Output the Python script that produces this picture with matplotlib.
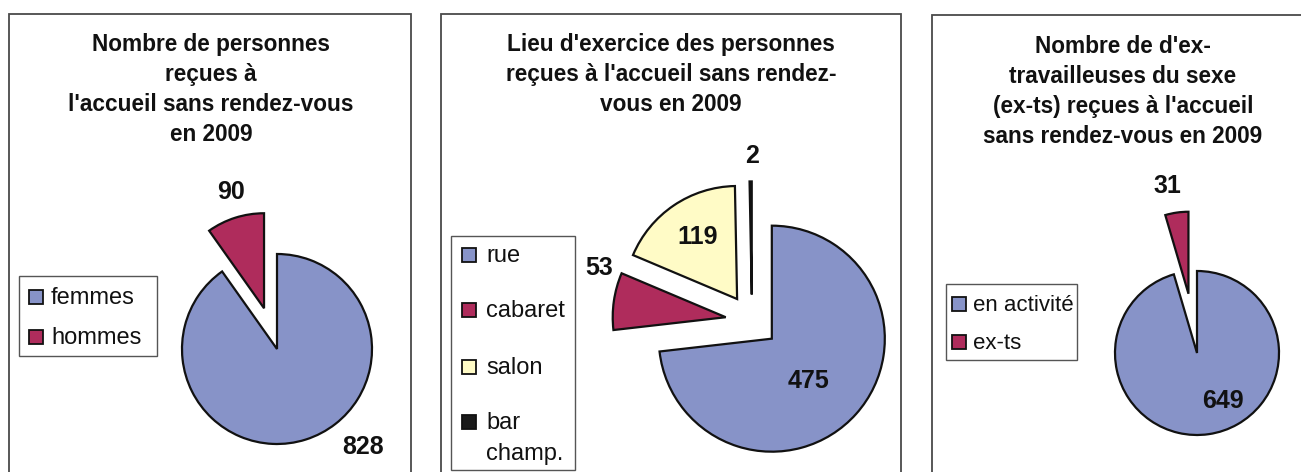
import matplotlib
matplotlib.use("Agg")
import matplotlib.pyplot as plt
from matplotlib.patches import Rectangle
import numpy as np

plt.rcParams['font.family'] = ['Liberation Sans', 'DejaVu Sans']

# ---------------- data ----------------
titles = [
    "Nombre de personnes\nreçues à\nl'accueil sans rendez-vous\nen 2009",
    "Lieu d'exercice des personnes\nreçues à l'accueil sans rendez-\nvous en 2009",
    "Nombre de d'ex-\ntravailleuses du sexe\n(ex-ts) reçues à l'accueil\nsans rendez-vous en 2009",
]
labels1 = ["femmes", "hommes"]
values1 = [828, 90]
labels2 = ["rue", "cabaret", "salon", "bar\nchamp."]
values2 = [475, 53, 119, 2]
labels3 = ["en activité", "ex-ts"]
values3 = [649, 31]

BLUE = '#8793C8'
MAROON = '#AF2C5C'
YELLOW = '#FFFBC6'
BLACK = '#1a1a1a'
colors1 = [BLUE, MAROON]
colors2 = [BLUE, MAROON, YELLOW, BLACK]
colors3 = [BLUE, MAROON]

W, H = 1301, 472
DPI = 100
fig = plt.figure(figsize=(W / DPI, H / DPI), dpi=DPI)
fig.patch.set_facecolor('white')


def fx(x):
    return x / W


def fy(y):
    return 1 - y / H


# panel frames
for (x0, x1, y0) in [(9, 411, 14), (441, 901, 14), (932, 1320, 15)]:
    fig.add_artist(Rectangle((fx(x0), fy(490)), (x1 - x0) / W, (490 - y0) / H,
                             transform=fig.transFigure, fill=False,
                             edgecolor='#4a4a4a', linewidth=1.3))

# titles (y = baseline of the first line, fixed line step)
TITLE_FS = 16.3
TITLE_STEP = 30
for t, (cx, by) in zip(titles, [(211, 51), (671, 51), (1123, 53)]):
    for i, line in enumerate(t.split('\n')):
        fig.text(fx(cx), fy(by + i * TITLE_STEP), line, ha='center', va='baseline',
                 fontsize=TITLE_FS, fontweight='bold', color='#111111')


def draw_pie(values, colors, cx, cy, r, explode, lab_pos):
    k = 2.4
    ax = fig.add_axes([fx(cx - k * r), fy(cy + k * r), 2 * k * r / W, 2 * k * r / H])
    wedges, _ = ax.pie(values, colors=colors, startangle=90, counterclock=False,
                       explode=explode, radius=1.0,
                       wedgeprops=dict(edgecolor='#111111', linewidth=1.6))
    ax.set_xlim(-k, k)
    ax.set_ylim(-k, k)
    ax.axis('off')
    for w, v, (dist, off) in zip(wedges, values, lab_pos):
        mid = np.deg2rad((w.theta1 + w.theta2) / 2 + off)
        ax.text(dist * np.cos(mid), dist * np.sin(mid), str(v), ha='center',
                va='center', fontsize=18, fontweight='bold', color='#111111')
    return wedges


def draw_legend(box, labels, colors, rows, sq_x, txt_x, fs=17, line_step=31):
    x0, y0, x1, y1 = box
    fig.add_artist(Rectangle((fx(x0), fy(y1)), (x1 - x0) / W, (y1 - y0) / H,
                             transform=fig.transFigure, fill=False,
                             edgecolor='#555555', linewidth=1.0))
    s = 14
    for lab, col, ry in zip(labels, colors, rows):
        fig.add_artist(Rectangle((fx(sq_x), fy(ry + s / 2)), s / W, s / H,
                                 transform=fig.transFigure, facecolor=col,
                                 edgecolor='#111111', linewidth=1.3))
        for i, line in enumerate(lab.split('\n')):
            fig.text(fx(txt_x), fy(ry + 7 + i * line_step), line, ha='left',
                     va='baseline', fontsize=fs, color='#111111')


# panel 1
draw_pie(values1, colors1, 277, 349, 95, [0, 0.45],
         [(1.37, 23.7), (1.72, -1.3)])
draw_legend((19, 276, 157, 356), labels1, colors1, [297, 337], 29, 51)

# panel 2
draw_pie(values2, colors2, 752, 321, 113, [0.235, 0.235, 0.235, 0.235],
         [(0.73, -5.3), (1.43, -10.8), (0.89, -1.1), (1.46, -0.5)])
draw_legend((451, 236, 575, 470), labels2, colors2, [255, 310, 367, 422], 462, 486)

# panel 3
draw_pie(values3, colors3, 1197, 353, 82, [0, 0.73],
         [(0.67, 20.3), (2.07, 1.7)])
draw_legend((946, 284, 1077, 360), labels3, colors3, [304, 342], 952, 973, fs=16)

fig.savefig('out.png', dpi=DPI, facecolor='white')
